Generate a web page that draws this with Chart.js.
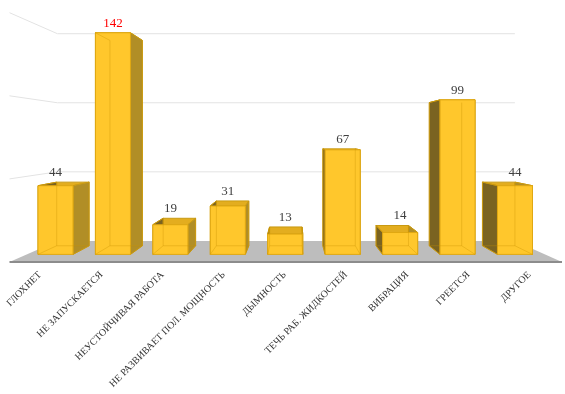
<!DOCTYPE html>
<html>
<head>
<meta charset="utf-8">
<script src="https://cdn.jsdelivr.net/npm/chart.js@4.4.0/dist/chart.umd.min.js"></script>
<style>
  html, body { margin: 0; padding: 0; background: #fff; }
  #wrap { width: 565px; height: 394px; }
</style>
</head>
<body>
<div id="wrap"><canvas id="chart" width="565" height="394"></canvas></div>
<script>
// data
const categories = [
  'ГЛОХНЕТ',
  'НЕ ЗАПУСКАЕТСЯ',
  'НЕУСТОЙЧИВАЯ РАБОТА',
  'НЕ РАЗВИВАЕТ ПОЛ. МОЩНОСТЬ',
  'ДЫМНОСТЬ',
  'ТЕЧЬ РАБ. ЖИДКОСТЕЙ',
  'ВИБРАЦИЯ',
  'ГРЕЕТСЯ',
  'ДРУГОЕ'
];
const counts = [44, 142, 19, 31, 13, 67, 14, 99, 44];
const gridValues = [50, 100, 150];
const highlighted = 'НЕ ЗАПУСКАЕТСЯ'; // its value label is red

// fake 3D: everything shrinks towards a vanishing point with depth
const VP = { x: 293, y: 137 };
const DEPTH = { barFront: 0.939, barBack: 0.870, wall: 0.831 };

function proj(x, y, r) {
  return { x: VP.x + (x - VP.x) * r, y: VP.y + (y - VP.y) * r };
}

function poly(ctx, pts) {
  ctx.beginPath();
  ctx.moveTo(pts[0].x, pts[0].y);
  for (let i = 1; i < pts.length; i++) ctx.lineTo(pts[i].x, pts[i].y);
  ctx.closePath();
}

// back wall / left wall gridlines and the grey floor
const room = {
  id: 'room',
  beforeDatasetsDraw(chart) {
    const { ctx, chartArea: a, scales: { y } } = chart;
    ctx.save();
    ctx.strokeStyle = '#e3e3e3';
    ctx.lineWidth = 1;
    gridValues.forEach(v => {
      const fy = y.getPixelForValue(v);
      const p1 = proj(a.left, fy, DEPTH.wall);
      const p2 = proj(a.right, fy, DEPTH.wall);
      ctx.beginPath();
      ctx.moveTo(a.left, fy);
      ctx.lineTo(p1.x, p1.y);
      ctx.lineTo(p2.x, p2.y);
      ctx.stroke();
    });

    const y0 = y.getPixelForValue(0);
    const bl = proj(a.left, y0, DEPTH.wall);
    const br = proj(a.right, y0, DEPTH.wall);
    ctx.fillStyle = '#bdbdbd';
    poly(ctx, [{ x: a.left, y: y0 }, bl, br, { x: a.right + 2, y: y0 }]);
    ctx.fill();
    ctx.strokeStyle = '#8c8c8c';
    ctx.lineWidth = 2;
    ctx.beginPath();
    ctx.moveTo(a.left, y0);
    ctx.lineTo(a.right + 2, y0);
    ctx.stroke();
    ctx.restore();
  }
};

// boxes drawn from the (invisible) flat bars
const bars3d = {
  id: 'bars3d',
  afterDatasetsDraw(chart) {
    const { ctx, scales: { y } } = chart;
    const meta = chart.getDatasetMeta(0);
    const base = y.getPixelForValue(0);
    ctx.save();
    meta.data.forEach((bar, i) => {
      const l = bar.x - bar.width / 2;
      const r = bar.x + bar.width / 2;
      const t = bar.y;
      const f = (x, yy) => proj(x, yy, DEPTH.barFront);
      const b = (x, yy) => proj(x, yy, DEPTH.barBack);
      const FLT = f(l, t), FRT = f(r, t), FLB = f(l, base), FRB = f(r, base);
      const BLT = b(l, t), BRT = b(r, t), BLB = b(l, base), BRB = b(r, base);

      ctx.lineWidth = 1;
      ctx.strokeStyle = '#c99a12';
      // top
      ctx.fillStyle = '#e3ad1f';
      poly(ctx, [FLT, FRT, BRT, BLT]);
      ctx.fill(); ctx.stroke();
      // left side
      ctx.fillStyle = '#7a6321';
      poly(ctx, [FLT, BLT, BLB, FLB]);
      ctx.fill(); ctx.stroke();
      // right side
      ctx.fillStyle = '#b18e26';
      poly(ctx, [FRT, BRT, BRB, FRB]);
      ctx.fill(); ctx.stroke();
      // front
      ctx.fillStyle = '#ffc72c';
      poly(ctx, [FLT, FRT, FRB, FLB]);
      ctx.fill();
      ctx.strokeStyle = '#e0a812';
      ctx.stroke();

      // back edges showing through the slightly see-through box
      ctx.strokeStyle = 'rgba(200, 145, 0, 0.35)';
      ctx.beginPath();
      ctx.moveTo(BLT.x, BLT.y); ctx.lineTo(BLB.x, BLB.y); ctx.lineTo(BRB.x, BRB.y); ctx.lineTo(BRT.x, BRT.y);
      ctx.moveTo(FLT.x, FLT.y); ctx.lineTo(BLT.x, BLT.y);
      ctx.moveTo(FLB.x, FLB.y); ctx.lineTo(BLB.x, BLB.y);
      ctx.moveTo(FRB.x, FRB.y); ctx.lineTo(BRB.x, BRB.y);
      ctx.stroke();

      // value label
      ctx.font = '13px "Liberation Serif", serif';
      ctx.textAlign = 'center';
      ctx.textBaseline = 'bottom';
      ctx.fillStyle = categories[i] === highlighted ? '#ff0000' : '#404040';
      const cx = (FLT.x + FRT.x) / 2;
      ctx.fillText(String(counts[i]), cx, Math.min(FLT.y, BLT.y) - 3);
    });
    ctx.restore();
  }
};

new Chart(document.getElementById('chart'), {
  type: 'bar',
  data: {
    labels: categories,
    datasets: [{
      data: counts,
      backgroundColor: 'rgba(0, 0, 0, 0)',
      borderWidth: 0,
      categoryPercentage: 1,
      barPercentage: 0.61
    }]
  },
  options: {
    responsive: false,
    animation: false,
    devicePixelRatio: 1,
    layout: {
      padding: { left: 9.5, right: 5, top: 12.7, bottom: 0 }
    },
    scales: {
      x: {
        grid: { display: false },
        border: { display: false },
        ticks: {
          color: '#333333',
          font: { family: '"Liberation Serif", serif', size: 10 },
          minRotation: 45,
          maxRotation: 45,
          autoSkip: false,
          padding: -1
        },
        afterFit(scale) {
          scale.height = 132;
          scale.paddingLeft = 0;
          scale.paddingRight = 0;
        }
      },
      y: {
        display: false,
        min: 0,
        max: 150
      }
    },
    plugins: {
      legend: { display: false },
      tooltip: { enabled: false }
    }
  },
  plugins: [room, bars3d]
});
</script>
</body>
</html>
